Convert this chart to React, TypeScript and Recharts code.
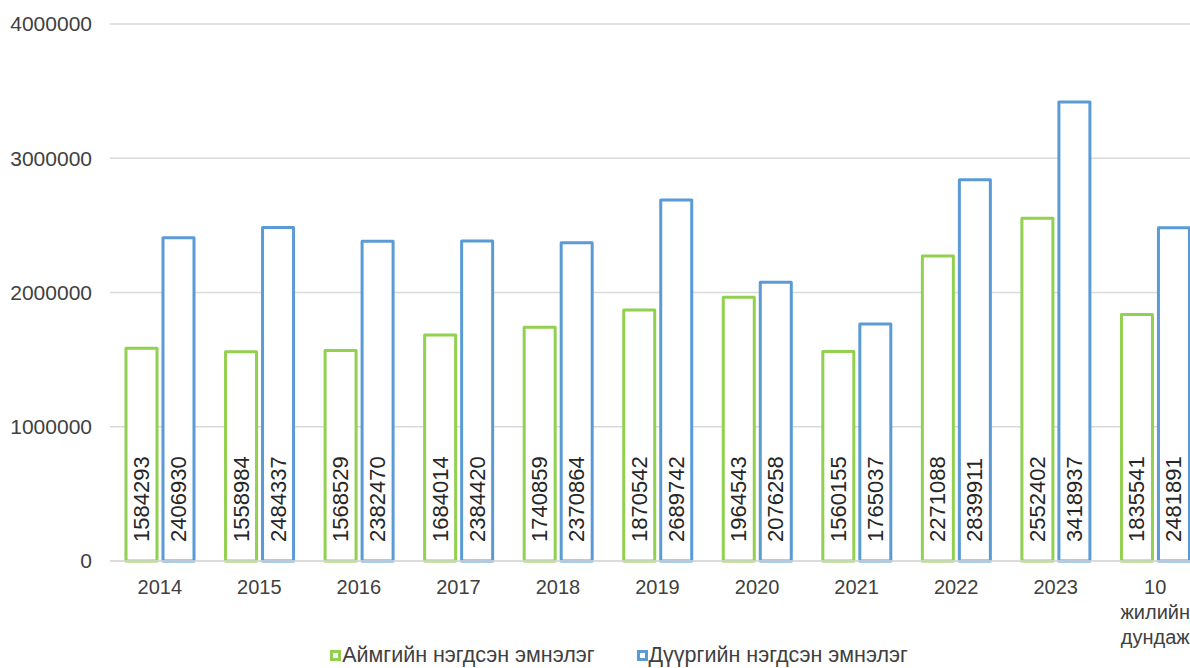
import { Bar, BarChart, CartesianGrid, LabelList, Legend, XAxis, YAxis } from "recharts";

const categories = ["2014", "2015", "2016", "2017", "2018", "2019", "2020", "2021", "2022", "2023", "10\nжилийн\nдундаж"];
const aimagValues = [1584293, 1558984, 1568529, 1684014, 1740859, 1870542, 1964543, 1560155, 2271088, 2552402, 1835541];
const duuregValues = [2406930, 2484337, 2382470, 2384420, 2370864, 2689742, 2076258, 1765037, 2839911, 3418937, 2481891];
const yTicks = [0, 1000000, 2000000, 3000000, 4000000];

const AIMAG_NAME = "Аймгийн нэгдсэн эмнэлэг";
const DUUREG_NAME = "Дүүргийн нэгдсэн эмнэлэг";
const GREEN = "#92D050";
const BLUE = "#5B9BD5";
const FONT = "'Liberation Sans', Arial, sans-serif";
const TEXT = "#404040";

const data = categories.map((c, i) => ({
  name: c,
  aimag: aimagValues[i],
  duureg: duuregValues[i],
}));

function CategoryTick({ x, y, payload }: any) {
  const lines = String(payload.value).split("\n");
  return (
    <text x={x} y={y} textAnchor="middle" fill={TEXT} fontSize={20} fontFamily={FONT}>
      {lines.map((l, i) => (
        <tspan key={i} x={x} dy={i === 0 ? "0.71em" : 25}>
          {l}
        </tspan>
      ))}
    </text>
  );
}

// vertical value label sitting near the bottom of each bar
function BarValue({ x, y, width, height, value }: any) {
  const cx = Number(x) + Number(width) / 2;
  const sy = Number(y) + Number(height) - 19;
  return (
    <text
      x={cx}
      y={sy}
      transform={`rotate(-90, ${cx}, ${sy})`}
      textAnchor="start"
      dominantBaseline="central"
      fill="#262626"
      fontSize={22}
      fontFamily={FONT}
    >
      {value}
    </text>
  );
}

function LegendBox() {
  const items = [
    { name: AIMAG_NAME, color: GREEN },
    { name: DUUREG_NAME, color: BLUE },
  ];
  return (
    <div
      style={{
        display: "flex",
        justifyContent: "center",
        gap: 42,
        paddingLeft: 33,
        paddingTop: 3,
        fontFamily: FONT,
        fontSize: 21.5,
        color: TEXT,
        lineHeight: "22px",
      }}
    >
      {items.map((it) => (
        <div key={it.name} style={{ display: "flex", alignItems: "center" }}>
          <span
            style={{
              display: "inline-block",
              width: 5,
              height: 5,
              border: `3.5px solid ${it.color}`,
              background: "#fff",
              marginRight: 1,
            }}
          />
          <span>{it.name}</span>
        </div>
      ))}
    </div>
  );
}

export default function App() {
  return (
    <div style={{ position: "absolute", left: 0, top: 0, width: 1190, height: 668, overflow: "hidden", background: "#fff" }}>
      <BarChart
        width={1205}
        height={672}
        data={data}
        margin={{ top: 24, right: 0, bottom: 0, left: 0 }}
        barSize={31}
        barGap={6}
      >
        <CartesianGrid vertical={false} stroke="#d9d9d9" strokeWidth={1.5} />
        <XAxis
          dataKey="name"
          axisLine={{ stroke: "#d9d9d9", strokeWidth: 1.5 }}
          tickLine={false}
          tickSize={0}
          tickMargin={19}
          height={80}
          interval={0}
          tick={<CategoryTick />}
        />
        <YAxis
          domain={[0, 4000000]}
          ticks={yTicks}
          axisLine={false}
          tickLine={false}
          tickSize={0}
          tickMargin={18}
          width={110}
          tick={{ fill: TEXT, fontSize: 21, fontFamily: FONT }}
        />
        <Legend
          verticalAlign="bottom"
          height={31}
          content={<LegendBox />}
          wrapperStyle={{ left: 0, width: 1205 }}
        />
        <Bar dataKey="aimag" name={AIMAG_NAME} fill="#fff" stroke={GREEN} strokeWidth={3} strokeLinejoin="round" isAnimationActive={false}>
          <LabelList dataKey="aimag" content={<BarValue />} />
        </Bar>
        <Bar dataKey="duureg" name={DUUREG_NAME} fill="#fff" stroke={BLUE} strokeWidth={3} strokeLinejoin="round" isAnimationActive={false}>
          <LabelList dataKey="duureg" content={<BarValue />} />
        </Bar>
      </BarChart>
    </div>
  );
}
